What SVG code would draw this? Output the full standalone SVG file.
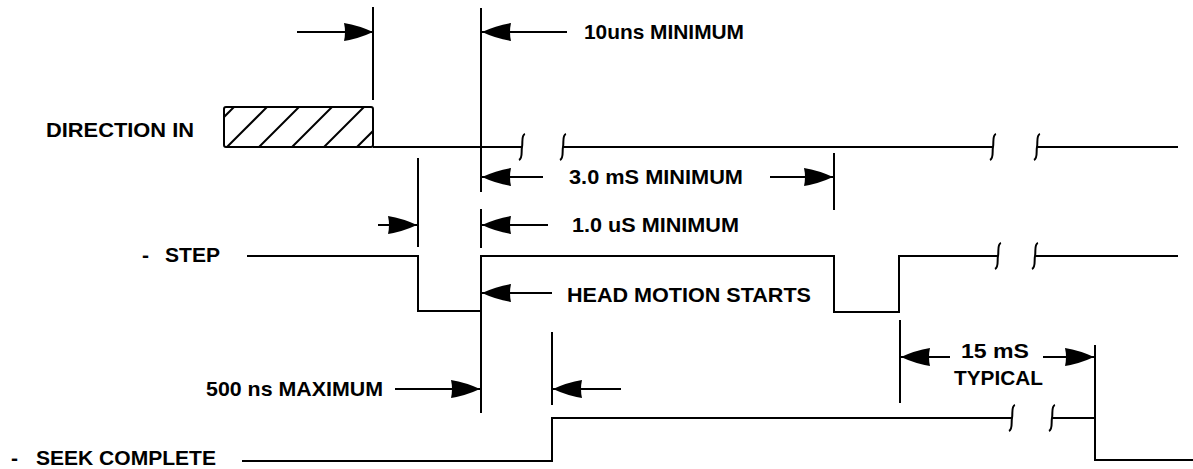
<svg xmlns="http://www.w3.org/2000/svg" width="1193" height="469" viewBox="0 0 1193 469">
<style>
.ln{fill:none;stroke:#000;stroke-width:2;stroke-linecap:butt;stroke-linejoin:miter}
.ar{fill:none;stroke:#000;stroke-width:2;marker-end:url(#ah)}
.brk{fill:none;stroke:#000;stroke-width:2}
.t{font-family:"Liberation Sans",Arial,sans-serif;font-size:21px;font-weight:bold;fill:#000}
.hat{stroke:#000;stroke-width:2}
</style>
<defs>
<marker id="ah" viewBox="0 0 29 19" refX="29" refY="9.5" markerWidth="29" markerHeight="19" markerUnits="userSpaceOnUse" orient="auto">
<path d="M0,0.5 Q15,3 29,9.5 Q15,16 0,18.5 Q2,9.5 0,0.5 Z" fill="#000"/>
</marker>
<path id="brkL" d="M3,-13 C-1,-12 1,-4 0,0 C-1,4 1,11 -3,13"/>
<clipPath id="hclip"><rect x="224" y="107" width="149" height="40"/></clipPath>
</defs>

<g id="direction-in">
<text class="t" x="46" y="137" textLength="148" lengthAdjust="spacingAndGlyphs">DIRECTION IN</text>
<rect x="224" y="107" width="149" height="40" rx="2" class="ln"/>
<g clip-path="url(#hclip)" class="hat">
<line x1="194" y1="147" x2="234" y2="107"/>
<line x1="227" y1="147" x2="267" y2="107"/>
<line x1="259" y1="147" x2="299" y2="107"/>
<line x1="292" y1="147" x2="332" y2="107"/>
<line x1="324" y1="147" x2="364" y2="107"/>
<line x1="357" y1="147" x2="397" y2="107"/>
</g>
<path class="ln" d="M373,147 H522"/>
<path class="ln" d="M563,147 H993"/>
<path class="ln" d="M1037,147 H1178"/>
<use href="#brkL" class="brk" x="522" y="147"/>
<use href="#brkL" class="brk" x="563" y="147"/>
<use href="#brkL" class="brk" x="993" y="147"/>
<use href="#brkL" class="brk" x="1037" y="147"/>
</g>

<g id="step">
<text class="t" y="262"><tspan x="142">-</tspan><tspan x="165" textLength="55" lengthAdjust="spacingAndGlyphs">STEP</tspan></text>
<path class="ln" d="M247,256 H418 V311 H481 V256 H834 V312 H899 V256 H998"/>
<path class="ln" d="M1035,256 H1178"/>
<use href="#brkL" class="brk" x="998" y="256"/>
<use href="#brkL" class="brk" x="1035" y="256"/>
</g>

<g id="seek-complete">
<text class="t" y="465"><tspan x="11">-</tspan><tspan x="36" textLength="180" lengthAdjust="spacingAndGlyphs">SEEK COMPLETE</tspan></text>
<path class="ln" d="M242,461 H552 V418 H1012"/>
<path class="ln" d="M1052,418 H1095 V460 H1193"/>
<use href="#brkL" class="brk" x="1012" y="418"/>
<use href="#brkL" class="brk" x="1052" y="418"/>
</g>

<g id="label-10ns">
<text class="t" x="584" y="39" textLength="160" lengthAdjust="spacingAndGlyphs">10uns MINIMUM</text>
</g>
<g id="label-3ms">
<text class="t" x="569" y="184" textLength="174" lengthAdjust="spacingAndGlyphs">3.0 mS MINIMUM</text>
</g>
<g id="label-1us">
<text class="t" x="572" y="232" textLength="167" lengthAdjust="spacingAndGlyphs">1.0 uS MINIMUM</text>
</g>
<g id="label-head">
<text class="t" x="567" y="302" textLength="244" lengthAdjust="spacingAndGlyphs">HEAD MOTION STARTS</text>
</g>
<g id="label-500ns">
<text class="t" x="206" y="396" textLength="177" lengthAdjust="spacingAndGlyphs">500 ns MAXIMUM</text>
</g>
<g id="label-15ms">
<text class="t" x="961" y="358" textLength="68" lengthAdjust="spacingAndGlyphs">15 mS</text>
<text class="t" x="954" y="385" textLength="89" lengthAdjust="spacingAndGlyphs">TYPICAL</text>
</g>

<g id="connectors">
<path class="ln" d="M373,7 V100"/>
<path class="ln" d="M481,8 V192 M481,209 V248 M481,311 V413"/>
<path class="ln" d="M418,158 V247"/>
<path class="ln" d="M834,153 V210"/>
<path class="ln" d="M552,332 V405"/>
<path class="ln" d="M900,320 V403"/>
<path class="ln" d="M1095,345 V418"/>
<line class="ar" x1="297" y1="32" x2="373" y2="32"/>
<line class="ar" x1="567" y1="32" x2="482" y2="32"/>
<line class="ar" x1="543" y1="177" x2="482" y2="177"/>
<line class="ar" x1="770" y1="177" x2="833" y2="177"/>
<line class="ar" x1="378" y1="225" x2="417" y2="225"/>
<line class="ar" x1="548" y1="225" x2="482" y2="225"/>
<line class="ar" x1="552" y1="293" x2="482" y2="293"/>
<line class="ar" x1="395" y1="389" x2="480" y2="389"/>
<line class="ar" x1="621" y1="389" x2="553" y2="389"/>
<line class="ar" x1="950" y1="357" x2="901" y2="357"/>
<line class="ar" x1="1043" y1="357" x2="1094" y2="357"/>
</g>
</svg>
